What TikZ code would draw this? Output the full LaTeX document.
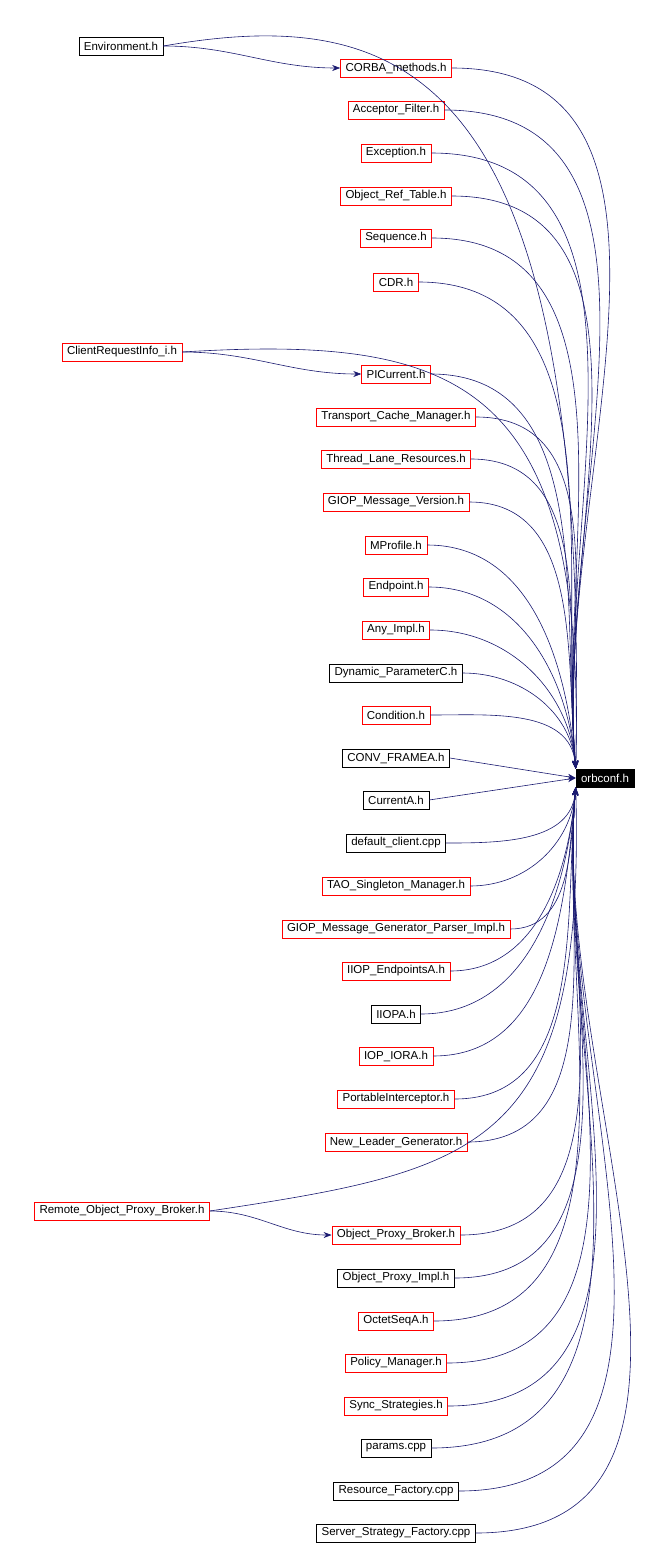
\documentclass[tikz,border=0pt]{standalone}
\usepackage{fontspec}
\setmainfont{Liberation Sans}
\usetikzlibrary{arrows.meta}
\definecolor{edgeblue}{HTML}{191970}
\tikzset{
  file/.style={draw=red, fill=white, font=\fontsize{11.5}{12}\selectfont, inner xsep=5pt, inner ysep=3pt, minimum height=18pt, line width=0.6pt},
  filedone/.style={file, draw=black},
  target/.style={file, draw=black, fill=black, text=white},
  edge/.style={draw=edgeblue, line width=0.6pt, -{Stealth[length=8pt,width=6pt]}}
}
\begin{document}
\begin{tikzpicture}[x=1pt,y=1pt]
            \useasboundingbox (0,0) rectangle (662,-1546);

            % target
            \node[target] (orbconf) at (605,-778) {orbconf.h};

            % left column
            \node[filedone] (env) at (121,-46) {Environment.h};
            \node[file] (cri) at (122,-352) {ClientRequestInfo\_i.h};
            \node[file] (ropb) at (122,-1211) {Remote\_Object\_Proxy\_Broker.h};

            % middle column
            \foreach \n/\t/\y/\s in {
              corba/CORBA\_methods.h/68/file,
              accf/Acceptor\_Filter.h/110/file,
              exc/Exception.h/153/file,
              ort/Object\_Ref\_Table.h/196/file,
              seq/Sequence.h/238/file,
              cdr/CDR.h/282/file,
              pic/PICurrent.h/374/file,
              tcm/Transport\_Cache\_Manager.h/417/file,
              tlr/Thread\_Lane\_Resources.h/459/file,
              gmv/GIOP\_Message\_Version.h/502/file,
              mprof/MProfile.h/545/file,
              endp/Endpoint.h/587/file,
              anyi/Any\_Impl.h/630/file,
              dynp/Dynamic\_ParameterC.h/673/filedone,
              cond/Condition.h/715/file,
              conv/CONV\_FRAMEA.h/758/filedone,
              cura/CurrentA.h/800/filedone,
              defc/default\_client.cpp/843/filedone,
              tsm/TAO\_Singleton\_Manager.h/886/file,
              gmg/GIOP\_Message\_Generator\_Parser\_Impl.h/929/file,
              iiope/IIOP\_EndpointsA.h/971/file,
              iiopa/IIOPA.h/1014/filedone,
              iopior/IOP\_IORA.h/1056/file,
              porti/PortableInterceptor.h/1099/file,
              nlg/New\_Leader\_Generator.h/1142/file,
              opb/Object\_Proxy\_Broker.h/1235/file,
              opi/Object\_Proxy\_Impl.h/1278/filedone,
              oct/OctetSeqA.h/1321/file,
              polm/Policy\_Manager.h/1363/file,
              syncs/Sync\_Strategies.h/1406/file,
              params/params.cpp/1448/filedone,
              resf/Resource\_Factory.cpp/1491/filedone,
              ssf/Server\_Strategy\_Factory.cpp/1533/filedone}
              \node[\s] (\n) at (396,-\y) {\t};

            % edges into orbconf.h
            \foreach \n in {corba,accf,exc,ort,seq,cdr,pic,tcm,tlr,gmv,mprof,endp,anyi,dynp,cond}
              \draw[edge] (\n.east) to[out=0, in=95] (orbconf.north west);
            \draw[edge] (conv.east) -- (orbconf.west);
            \draw[edge] (cura.east) -- (orbconf.west);
            \foreach \n in {defc,tsm,gmg,iiope,iiopa,iopior,porti,nlg,opb,opi,oct,polm,syncs,params,resf,ssf}
              \draw[edge] (\n.east) to[out=0, in=265] (orbconf.south west);
            \draw[edge] (env.east) .. controls (400,-5) and (590,-60) .. (orbconf.north west);
            \draw[edge] (cri.east) .. controls (460,-335) and (585,-380) .. (orbconf.north west);
            \draw[edge] (ropb.east) .. controls (480,-1170) and (585,-1150) .. (orbconf.south west);

            % edges between headers
            \draw[edge] (env.east) to[out=0, in=180] (corba.west);
            \draw[edge] (cri.east) to[out=0, in=180] (pic.west);
            \draw[edge] (ropb.east) to[out=0, in=180] (opb.west);
\end{tikzpicture}
\end{document}
